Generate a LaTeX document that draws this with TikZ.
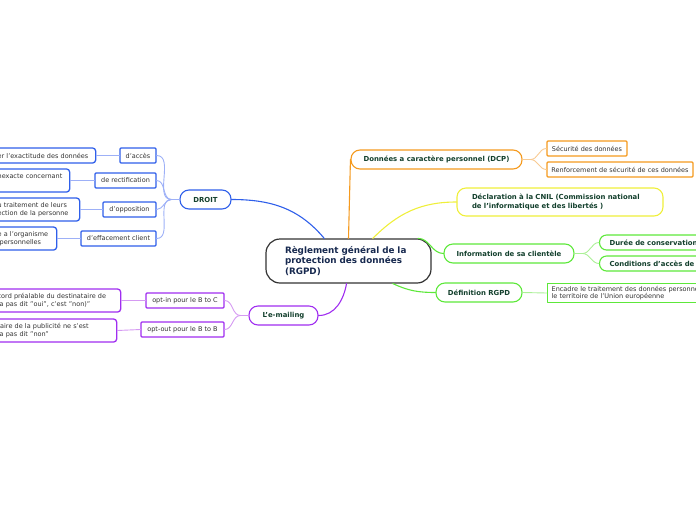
\documentclass[tikz,border=0pt]{standalone}
\usepackage{fontspec}
\setmainfont{DejaVu Sans}
\definecolor{bleu}{HTML}{2F5FEA}
\definecolor{bleuclair}{HTML}{9DB0F7}
\definecolor{violet}{HTML}{A02EF0}
\definecolor{violetclair}{HTML}{D59AF2}
\definecolor{orange}{HTML}{F59A1E}
\definecolor{orangeclair}{HTML}{F8CA92}
\definecolor{jaune}{HTML}{EFEF3A}
\definecolor{vert}{HTML}{5DE83A}
\definecolor{vertclair}{HTML}{ABF096}
\definecolor{textevert}{HTML}{123F2C}
\definecolor{textebleu}{HTML}{17294F}
\tikzset{
  racine/.style={draw=black!80, line width=1.2pt, fill=white, rounded corners=14pt,
    minimum width=165pt, minimum height=44pt, text width=127pt, align=left,
    font=\fontsize{8.8}{10.2}\selectfont\bfseries, text=textebleu, inner sep=0pt},
  branche/.style={line width=1.1pt, fill=white, rounded corners=9pt, minimum height=19pt,
    inner sep=0pt, font=\fontsize{6.9}{8.2}\selectfont\bfseries, text=textevert},
  feuille/.style={line width=1.3pt, fill=white, rounded corners=1pt, minimum height=15pt,
    inner sep=0pt, font=\fontsize{6.5}{8}\selectfont, text=black!80},
  bloc/.style={line width=1.3pt, fill=white, rounded corners=3pt, anchor=west,
    inner xsep=4pt, inner ysep=2pt, align=left, font=\fontsize{6.5}{7.8}\selectfont, text=black!80},
  lien/.style={line width=1.1pt},
  souslien/.style={line width=0.9pt}
}
\begin{document}
\begin{tikzpicture}[x=1pt, y=-1pt, line join=round, line cap=round]
  \useasboundingbox (0,0) rectangle (696,520);
  \clip (0,0) rectangle (696,520);

  % Nœud central
  \node[racine] (rgpd) at (348.5,261) {Règlement général de la\\protection des données\\(RGPD)};

  % Branches principales
  \node[branche, draw=bleu, minimum width=51pt] (droit) at (205.5,199.5) {DROIT};
  \node[branche, draw=violet, minimum width=69pt] (emailing) at (283.5,315.5) {L'e-mailing};
  \node[branche, draw=orange, minimum width=171pt] (dcp) at (436.5,159.5) {Données a caractère personnel (DCP)};
  \node[branche, draw=jaune, minimum width=206pt, minimum height=28pt, text width=176pt, align=left] (cnil) at (560,202)
    {Déclaration à la CNIL (Commission national\\de l'informatique et des libertés )};
  \node[branche, draw=vert, minimum width=130pt] (info) at (509,253.5) {Information de sa clientèle};
  \node[branche, draw=vert, minimum width=86pt] (defin) at (479,292.5) {Définition RGPD};

  % Feuilles de DROIT
  \node[feuille, draw=bleu, minimum width=36pt] (acces) at (138,155.5) {d'accès};
  \node[feuille, draw=bleu, minimum width=61pt] (rectif) at (125.5,180.5) {de rectification};
  \node[feuille, draw=bleu, minimum width=53pt] (oppos) at (129.5,209.5) {d'opposition};
  \node[feuille, draw=bleu, minimum width=75pt] (effac) at (118.5,238.5) {d'effacement client};

  % Feuilles de l'e-mailing
  \node[feuille, draw=violet, minimum width=78pt] (optin) at (185,300.5) {opt-in pour le B to C};
  \node[feuille, draw=violet, minimum width=83pt] (optout) at (182.5,329.5) {opt-out pour le B to B};

  % Feuilles de droite
  \node[feuille, draw=orange, minimum width=80pt] (secu) at (587,148.5) {Sécurité des données};
  \node[feuille, draw=orange, minimum width=146pt] (renfo) at (620,169.5) {Renforcement de sécurité de ces données};
  \node[branche, draw=vert, rounded corners=7pt, minimum height=15pt, anchor=west, minimum width=140pt,
    text width=120pt, align=left] (duree) at (599,242.5) {Durée de conservation};
  \node[branche, draw=vert, rounded corners=7pt, minimum height=15pt, anchor=west, minimum width=140pt,
    text width=120pt, align=left] (condi) at (599,263.5) {Conditions d'accès de};
  \node[bloc, draw=vert, rounded corners=0pt, text width=170pt] (encadre) at (547,293)
    {Encadre le traitement des données personne\\le territoire de l'Union européenne};

  % Blocs coupés à gauche
  \node[bloc, draw=bleu, text width=94pt, minimum height=15pt] (txtacces) at (-7,155.5) {er l'exactitude des données};
  \node[bloc, draw=bleu, text width=68pt, minimum height=23pt] (txtrectif) at (-7,180.5) {nexacte concernant\\\mbox{}};
  \node[bloc, draw=bleu, text width=78pt, minimum height=23pt] (txtoppos) at (-7,209.5) {u traitement de leurs\\ection de la personne};
  \node[bloc, draw=bleu, text width=55pt, minimum height=23pt] (txteffac) at (-7,238.5) {e a l'organisme\\\hspace*{2pt}personnelles};
  \node[bloc, draw=violet, text width=119pt, minimum height=23pt] (txtoptin) at (-7,300.5) {cord préalable du destinataire de\\'a pas dit "oui", c'est "non)"};
  \node[bloc, draw=violet, text width=115pt, minimum height=23pt] (txtoptout) at (-7,330.5) {taire de la publicité ne s'est\\'a pas dit "non"};

  % Liens du nœud central
  \draw[lien, bleu] (rgpd.137) to[out=130,in=0] (droit.east);
  \draw[lien, violet] (rgpd.-95) to[out=-100,in=0] (emailing.east);
  \draw[lien, orange] (rgpd.north) -- (dcp.west);
  \draw[lien, jaune] (rgpd.43) to[out=45,in=180] (cnil.west);
  \draw[lien, vert] (rgpd.18) to[out=0,in=180] (info.west);
  \draw[lien, vert] (rgpd.-27) to[out=-25,in=180] (defin.west);

  % Liens secondaires
  \foreach \f in {acces, rectif, oppos, effac}
    \draw[souslien, bleuclair] (droit.west) -- ++(-8,0) to[out=180,in=0] (\f.east);
  \foreach \f in {optin, optout}
    \draw[souslien, violetclair] (emailing.west) -- ++(-8,0) to[out=180,in=0] (\f.east);
  \foreach \f in {secu, renfo}
    \draw[souslien, orangeclair] (dcp.east) -- ++(8,0) to[out=0,in=180] (\f.west);
  \foreach \f in {duree, condi}
    \draw[souslien, vertclair] (info.east) -- ++(8,0) to[out=0,in=180] (\f.west);
  \draw[souslien, vertclair] (defin.east) -- (encadre.west);

  % Liens vers les blocs de gauche
  \draw[souslien, bleuclair] (acces.west) -- (txtacces.east);
  \draw[souslien, bleuclair] (rectif.west) -- (txtrectif.east);
  \draw[souslien, bleuclair] (oppos.west) -- (txtoppos.east);
  \draw[souslien, bleuclair] (effac.west) -- (txteffac.east);
  \draw[souslien, violetclair] (optin.west) -- (txtoptin.east);
  \draw[souslien, violetclair] (optout.west) -- (txtoptout.east);
\end{tikzpicture}
\end{document}
